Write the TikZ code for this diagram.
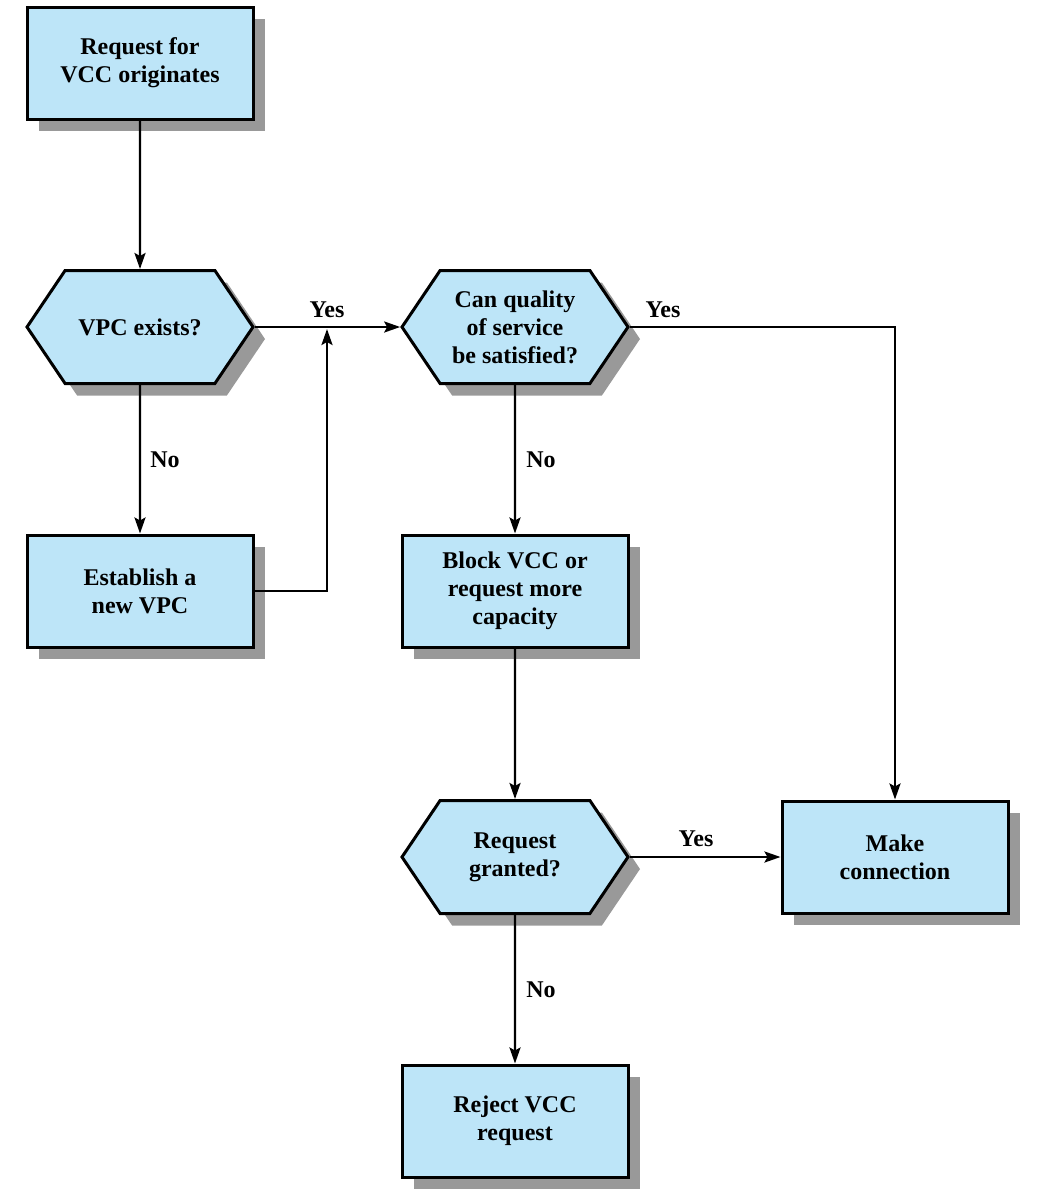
\documentclass[tikz,border=0pt]{standalone}
\usepackage{fontspec}
\setmainfont{Liberation Serif}
\usetikzlibrary{arrows.meta,shapes.symbols,shadows}
\definecolor{boxblue}{HTML}{BDE5F8}
\definecolor{shadowgray}{HTML}{999999}
\begin{document}
\begin{tikzpicture}[x=0.5pt,y=-0.5pt,
  base/.style={draw=black, line width=1.5pt, fill=boxblue, align=center,
    font=\fontsize{12}{14}\selectfont\bfseries, inner sep=0pt,
    general shadow={fill=shadowgray, shadow xshift=6pt, shadow yshift=-6pt}},
  box/.style={base, rectangle, minimum width=113pt, minimum height=56pt},
  hexa/.style={base, signal, signal to=east and west, signal pointer angle=112,
    minimum width=113pt, minimum height=56.5pt},
  conn/.style={line width=1.2pt, -{Stealth[length=8pt,width=5.5pt,inset=1.5pt]}},
  lbl/.style={font=\fontsize{12}{14}\selectfont\bfseries}
]
\useasboundingbox (0,0) rectangle (1047,1201);
\node[box] (b1) at (140,63) {Request for\\VCC originates};
\node[hexa] (h1) at (140,327) {VPC exists?};
\node[box] (b2) at (140,591) {Establish a\\new VPC};
\node[hexa] (h2) at (515,327) {Can quality\\of service\\be satisfied?};
\node[box] (b3) at (515,591) {Block VCC or\\request more\\capacity};
\node[hexa] (h3) at (515,857) {Request\\granted?};
\node[box] (b4) at (895,857) {Make\\connection};
\node[box] (b5) at (515,1121) {Reject VCC\\request};
\coordinate (j) at (327,329);

\draw[conn] (b1) -- (h1);
\draw[conn] (h1.east) -- (h2.west);
\draw[conn] (h1) -- (b2);
\draw[conn] (b2.east) -| (j);
\draw[conn] (h2.east) -| (b4.north);
\draw[conn] (h2) -- (b3);
\draw[conn] (b3) -- (h3);
\draw[conn] (h3.east) -- (b4.west);
\draw[conn] (h3) -- (b5);

\node[lbl] (l1) at (327,310) {Yes};
\node[lbl] (l2) at (165,460) {No};
\node[lbl] (l3) at (663,310) {Yes};
\node[lbl] (l4) at (541,460) {No};
\node[lbl] (l5) at (696,839) {Yes};
\node[lbl] (l6) at (541,990) {No};
\end{tikzpicture}
\end{document}
